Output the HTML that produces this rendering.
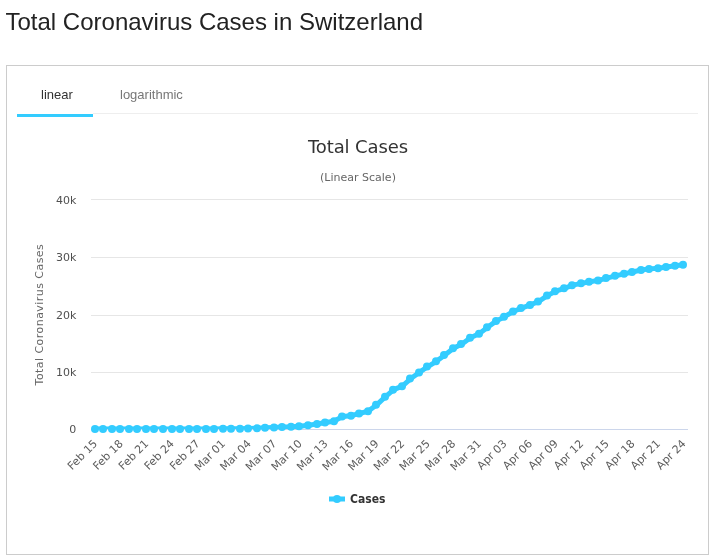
<!DOCTYPE html>
<html><head><meta charset="utf-8"><title>Total Coronavirus Cases in Switzerland</title>
<style>
html,body{margin:0;padding:0;background:#fff;}
body{width:716px;height:560px;overflow:hidden;position:relative;font-family:"Liberation Sans",sans-serif;}
h3{position:absolute;left:5.5px;top:7px;margin:0;font-size:24px;font-weight:400;color:#222;line-height:30px;white-space:nowrap;}
.box{position:absolute;left:6px;top:65px;width:701px;height:488px;border:1px solid #ccc;background:#fff;}
.tabs{position:absolute;left:17px;top:75px;width:681px;height:38px;border-bottom:1px solid #eee;}
.tab{position:absolute;top:0;height:39px;line-height:39px;font-size:13px;color:#777;white-space:nowrap;}
.tab.a{left:0;width:52px;padding-left:24px;border-bottom:3px solid #33ccff;color:#333;background:#fff;}
.tab.b{left:103px;}
svg{position:absolute;left:0;top:0;}
svg text{font-family:"DejaVu Sans","Liberation Sans",sans-serif;}
</style></head><body>
<h3>Total Coronavirus Cases in Switzerland</h3>
<div class="box"></div>
<div class="tabs"><div class="tab a">linear</div><div class="tab b">logarithmic</div></div>
<svg width="716" height="560" viewBox="0 0 716 560">
<text x="358" y="153" text-anchor="middle" font-size="18" fill="#333" letter-spacing="-0.1">Total Cases</text>
<text x="358" y="181" text-anchor="middle" font-size="11" fill="#666">(Linear Scale)</text>
<path d="M 91.0 199.5 L 688.0 199.5" stroke="#e6e6e6" stroke-width="1" fill="none"/><path d="M 91.0 257.5 L 688.0 257.5" stroke="#e6e6e6" stroke-width="1" fill="none"/><path d="M 91.0 315.5 L 688.0 315.5" stroke="#e6e6e6" stroke-width="1" fill="none"/><path d="M 91.0 372.5 L 688.0 372.5" stroke="#e6e6e6" stroke-width="1" fill="none"/>
<path d="M 91.0 429.5 L 688.0 429.5" stroke="#ccd6eb" stroke-width="1" fill="none"/>
<g font-size="11" fill="#505050"><text x="76.3" y="204" text-anchor="end">40k</text><text x="76.3" y="261" text-anchor="end">30k</text><text x="76.3" y="319" text-anchor="end">20k</text><text x="76.3" y="376" text-anchor="end">10k</text><text x="76.3" y="433" text-anchor="end">0</text></g>
<text x="42.8" y="314.6" transform="rotate(-90 42.8 314.6)" text-anchor="middle" font-size="11" fill="#666" letter-spacing="0.45">Total Coronavirus Cases</text>
<g font-size="11" fill="#5c5c5c"><text x="98.06" y="444.3" transform="rotate(-45 98.06 444.3)" text-anchor="end">Feb 15</text><text x="123.65" y="444.3" transform="rotate(-45 123.65 444.3)" text-anchor="end">Feb 18</text><text x="149.24" y="444.3" transform="rotate(-45 149.24 444.3)" text-anchor="end">Feb 21</text><text x="174.82" y="444.3" transform="rotate(-45 174.82 444.3)" text-anchor="end">Feb 24</text><text x="200.41" y="444.3" transform="rotate(-45 200.41 444.3)" text-anchor="end">Feb 27</text><text x="225.99" y="444.3" transform="rotate(-45 225.99 444.3)" text-anchor="end">Mar 01</text><text x="251.58" y="444.3" transform="rotate(-45 251.58 444.3)" text-anchor="end">Mar 04</text><text x="277.16" y="444.3" transform="rotate(-45 277.16 444.3)" text-anchor="end">Mar 07</text><text x="302.75" y="444.3" transform="rotate(-45 302.75 444.3)" text-anchor="end">Mar 10</text><text x="328.34" y="444.3" transform="rotate(-45 328.34 444.3)" text-anchor="end">Mar 13</text><text x="353.92" y="444.3" transform="rotate(-45 353.92 444.3)" text-anchor="end">Mar 16</text><text x="379.51" y="444.3" transform="rotate(-45 379.51 444.3)" text-anchor="end">Mar 19</text><text x="405.09" y="444.3" transform="rotate(-45 405.09 444.3)" text-anchor="end">Mar 22</text><text x="430.68" y="444.3" transform="rotate(-45 430.68 444.3)" text-anchor="end">Mar 25</text><text x="456.26" y="444.3" transform="rotate(-45 456.26 444.3)" text-anchor="end">Mar 28</text><text x="481.85" y="444.3" transform="rotate(-45 481.85 444.3)" text-anchor="end">Mar 31</text><text x="507.44" y="444.3" transform="rotate(-45 507.44 444.3)" text-anchor="end">Apr 03</text><text x="533.02" y="444.3" transform="rotate(-45 533.02 444.3)" text-anchor="end">Apr 06</text><text x="558.61" y="444.3" transform="rotate(-45 558.61 444.3)" text-anchor="end">Apr 09</text><text x="584.19" y="444.3" transform="rotate(-45 584.19 444.3)" text-anchor="end">Apr 12</text><text x="609.78" y="444.3" transform="rotate(-45 609.78 444.3)" text-anchor="end">Apr 15</text><text x="635.36" y="444.3" transform="rotate(-45 635.36 444.3)" text-anchor="end">Apr 18</text><text x="660.95" y="444.3" transform="rotate(-45 660.95 444.3)" text-anchor="end">Apr 21</text><text x="686.54" y="444.3" transform="rotate(-45 686.54 444.3)" text-anchor="end">Apr 24</text></g>
<defs><clipPath id="pc"><rect x="91" y="199" width="597" height="230"/></clipPath></defs>
<g clip-path="url(#pc)"><path d="M 95.26 429.00 L 103.79 429.00 L 112.32 429.00 L 120.85 429.00 L 129.38 429.00 L 137.91 429.00 L 146.44 429.00 L 154.96 429.00 L 163.49 429.00 L 172.02 429.00 L 180.55 428.99 L 189.08 428.99 L 197.61 428.95 L 206.14 428.91 L 214.66 428.90 L 223.19 428.85 L 231.72 428.76 L 240.25 428.68 L 248.78 428.48 L 257.31 428.35 L 265.84 427.77 L 274.36 427.46 L 282.89 427.07 L 291.42 426.86 L 299.95 426.19 L 308.48 425.26 L 317.01 424.03 L 325.54 422.47 L 334.06 421.21 L 342.59 416.39 L 351.12 415.65 L 359.65 413.53 L 368.18 411.15 L 376.71 404.81 L 385.24 396.83 L 393.76 389.68 L 402.29 386.17 L 410.82 378.60 L 419.35 372.40 L 427.88 366.56 L 436.41 361.32 L 444.94 354.92 L 453.46 348.34 L 461.99 344.03 L 470.52 337.77 L 479.05 333.85 L 487.58 327.19 L 496.11 321.12 L 504.64 316.66 L 513.16 311.51 L 521.69 308.10 L 530.22 304.91 L 538.75 301.49 L 547.28 295.61 L 555.81 291.19 L 564.34 288.32 L 572.86 285.14 L 581.39 283.37 L 589.92 281.81 L 598.45 280.39 L 606.98 278.09 L 615.51 275.83 L 624.04 273.84 L 632.56 271.98 L 641.09 270.05 L 649.62 268.88 L 658.15 268.20 L 666.68 267.02 L 675.21 265.72 L 683.74 264.68" stroke="#33ccff" stroke-width="5" fill="none" stroke-linejoin="round" stroke-linecap="round"/></g>
<g fill="#33ccff"><circle cx="95" cy="429.00" r="4"/><circle cx="103" cy="429.00" r="4"/><circle cx="112" cy="429.00" r="4"/><circle cx="120" cy="429.00" r="4"/><circle cx="129" cy="429.00" r="4"/><circle cx="137" cy="429.00" r="4"/><circle cx="146" cy="429.00" r="4"/><circle cx="154" cy="429.00" r="4"/><circle cx="163" cy="429.00" r="4"/><circle cx="172" cy="429.00" r="4"/><circle cx="180" cy="428.99" r="4"/><circle cx="189" cy="428.99" r="4"/><circle cx="197" cy="428.95" r="4"/><circle cx="206" cy="428.91" r="4"/><circle cx="214" cy="428.90" r="4"/><circle cx="223" cy="428.85" r="4"/><circle cx="231" cy="428.76" r="4"/><circle cx="240" cy="428.68" r="4"/><circle cx="248" cy="428.48" r="4"/><circle cx="257" cy="428.35" r="4"/><circle cx="265" cy="427.77" r="4"/><circle cx="274" cy="427.46" r="4"/><circle cx="282" cy="427.07" r="4"/><circle cx="291" cy="426.86" r="4"/><circle cx="299" cy="426.19" r="4"/><circle cx="308" cy="425.26" r="4"/><circle cx="317" cy="424.03" r="4"/><circle cx="325" cy="422.47" r="4"/><circle cx="334" cy="421.21" r="4"/><circle cx="342" cy="416.39" r="4"/><circle cx="351" cy="415.65" r="4"/><circle cx="359" cy="413.53" r="4"/><circle cx="368" cy="411.15" r="4"/><circle cx="376" cy="404.81" r="4"/><circle cx="385" cy="396.83" r="4"/><circle cx="393" cy="389.68" r="4"/><circle cx="402" cy="386.17" r="4"/><circle cx="410" cy="378.60" r="4"/><circle cx="419" cy="372.40" r="4"/><circle cx="427" cy="366.56" r="4"/><circle cx="436" cy="361.32" r="4"/><circle cx="444" cy="354.92" r="4"/><circle cx="453" cy="348.34" r="4"/><circle cx="461" cy="344.03" r="4"/><circle cx="470" cy="337.77" r="4"/><circle cx="479" cy="333.85" r="4"/><circle cx="487" cy="327.19" r="4"/><circle cx="496" cy="321.12" r="4"/><circle cx="504" cy="316.66" r="4"/><circle cx="513" cy="311.51" r="4"/><circle cx="521" cy="308.10" r="4"/><circle cx="530" cy="304.91" r="4"/><circle cx="538" cy="301.49" r="4"/><circle cx="547" cy="295.61" r="4"/><circle cx="555" cy="291.19" r="4"/><circle cx="564" cy="288.32" r="4"/><circle cx="572" cy="285.14" r="4"/><circle cx="581" cy="283.37" r="4"/><circle cx="589" cy="281.81" r="4"/><circle cx="598" cy="280.39" r="4"/><circle cx="606" cy="278.09" r="4"/><circle cx="615" cy="275.83" r="4"/><circle cx="624" cy="273.84" r="4"/><circle cx="632" cy="271.98" r="4"/><circle cx="641" cy="270.05" r="4"/><circle cx="649" cy="268.88" r="4"/><circle cx="658" cy="268.20" r="4"/><circle cx="666" cy="267.02" r="4"/><circle cx="675" cy="265.72" r="4"/><circle cx="683" cy="264.68" r="4"/></g>
<path d="M 329 499 L 345 499" stroke="#33ccff" stroke-width="5"/>
<circle cx="337" cy="499" r="4" fill="#33ccff"/>
<text x="350" y="503" font-size="12" font-weight="bold" fill="#333" style="font-family:'DejaVu Sans Condensed','DejaVu Sans',sans-serif">Cases</text>
</svg>
</body></html>
